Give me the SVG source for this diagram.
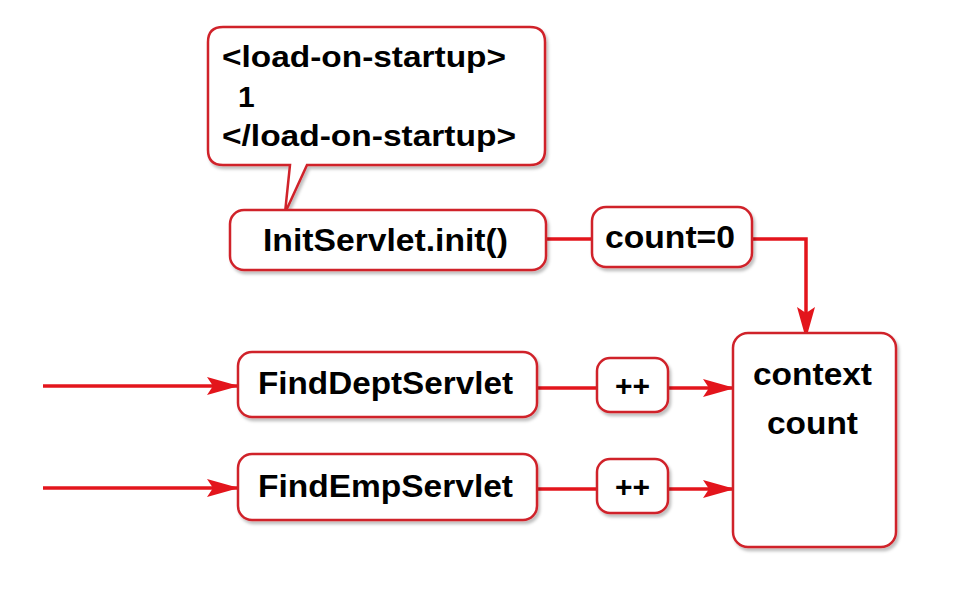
<svg xmlns="http://www.w3.org/2000/svg" width="977" height="597" viewBox="0 0 977 597">
<defs>
  <filter id="sh" x="-10%" y="-10%" width="130%" height="130%">
    <feDropShadow dx="2" dy="3" stdDeviation="1.5" flood-color="#000" flood-opacity="0.25"/>
  </filter>
  <marker id="ah" markerUnits="userSpaceOnUse" markerWidth="32" markerHeight="20" refX="31" refY="10" orient="auto" viewBox="0 0 32 20">
    <path d="M0,1 L32,10 L0,19 L6,10 Z" fill="#e3151c"/>
  </marker>
  <style>
    .box { fill: #ffffff; stroke: #d0242b; stroke-width: 2.5; filter: url(#sh); }
    .t { font-family: "Liberation Sans", Arial, sans-serif; font-weight: bold; fill: #000; }
    .c { fill: none; stroke: #e3151c; stroke-width: 3.5; }
    .a { marker-end: url(#ah); }
  </style>
</defs>
<rect width="977" height="597" fill="#ffffff"/>

<g id="connectors">
  <line class="c" x1="547" y1="239" x2="592" y2="239"/>
  <polyline class="c a" points="752,239 806,239 806,338"/>
  <line class="c a" x1="43" y1="386" x2="238" y2="386"/>
  <line class="c a" x1="43" y1="488" x2="238" y2="488"/>
  <line class="c" x1="537" y1="388" x2="597" y2="388"/>
  <line class="c a" x1="668" y1="388" x2="734" y2="388"/>
  <line class="c" x1="537" y1="489" x2="597" y2="489"/>
  <line class="c a" x1="668" y1="489" x2="734" y2="489"/>
</g>

<g id="callout">
  <path class="box" d="M 223 27 H 530 Q 545 27 545 42 V 150 Q 545 165 530 165 H 307 L 285 213 L 290 165 H 223 Q 208 165 208 150 V 42 Q 208 27 223 27 Z"/>
  <text class="t" x="222" y="67" font-size="30" textLength="284" lengthAdjust="spacingAndGlyphs">&lt;load-on-startup&gt;</text>
  <text class="t" x="238" y="107" font-size="30">1</text>
  <text class="t" x="222" y="146" font-size="30" textLength="294" lengthAdjust="spacingAndGlyphs">&lt;/load-on-startup&gt;</text>
</g>

<g id="initservlet">
  <rect class="box" x="230" y="210" width="316" height="60" rx="14"/>
  <text class="t" x="263" y="251" font-size="32" textLength="245" lengthAdjust="spacingAndGlyphs">InitServlet.init()</text>
</g>

<g id="count0">
  <rect class="box" x="592" y="207" width="160" height="60" rx="14"/>
  <text class="t" x="605" y="248" font-size="31" textLength="130" lengthAdjust="spacingAndGlyphs">count=0</text>
</g>

<g id="context">
  <rect class="box" x="733" y="333" width="163" height="214" rx="15"/>
  <text class="t" x="753" y="385" font-size="32" textLength="119" lengthAdjust="spacingAndGlyphs">context</text>
  <text class="t" x="767" y="434" font-size="32" textLength="91" lengthAdjust="spacingAndGlyphs">count</text>
</g>

<g id="finddept">
  <rect class="box" x="238" y="352" width="299" height="65" rx="14"/>
  <text class="t" x="258" y="394" font-size="31" textLength="255" lengthAdjust="spacingAndGlyphs">FindDeptServlet</text>
</g>

<g id="findemp">
  <rect class="box" x="238" y="454" width="299" height="66" rx="14"/>
  <text class="t" x="258" y="497" font-size="31" textLength="255" lengthAdjust="spacingAndGlyphs">FindEmpServlet</text>
</g>

<g id="inc1">
  <rect class="box" x="597" y="358" width="71" height="54" rx="13"/>
  <text class="t" x="632.5" y="396" font-size="30" text-anchor="middle">++</text>
</g>

<g id="inc2">
  <rect class="box" x="597" y="459" width="71" height="54" rx="13"/>
  <text class="t" x="632.5" y="497" font-size="30" text-anchor="middle">++</text>
</g>
</svg>
